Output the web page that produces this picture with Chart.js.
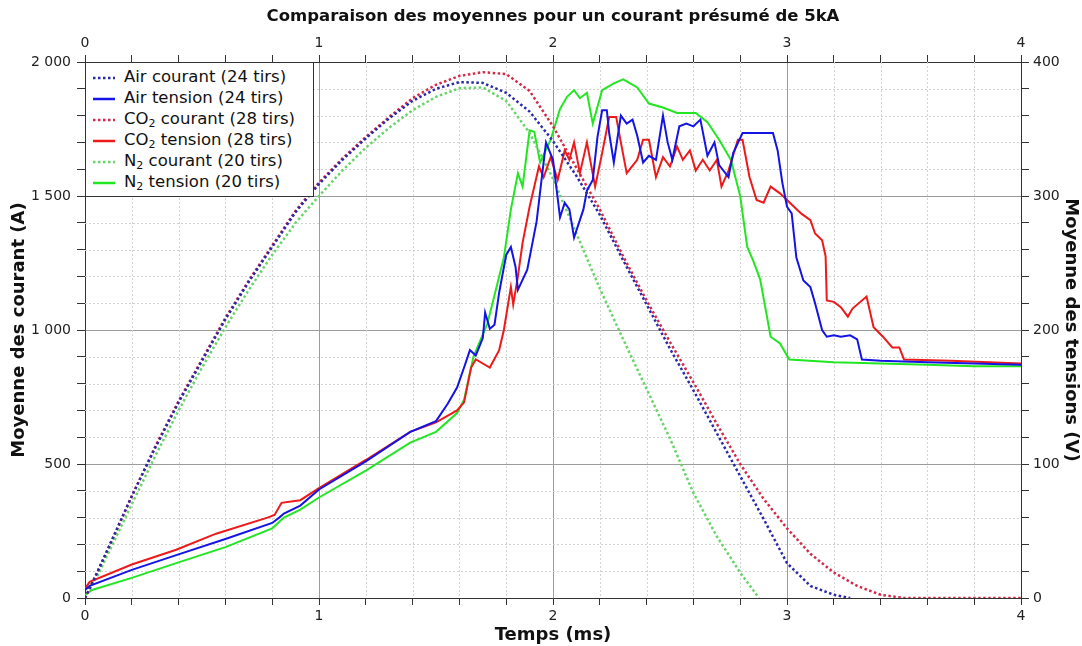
<!DOCTYPE html>
<html>
<head>
<meta charset="utf-8">
<script src="https://cdn.jsdelivr.net/npm/chart.js@4/dist/chart.umd.min.js"></script>
<style>
  body { margin: 0; background: #fff; }
  #wrap { position: relative; width: 1082px; height: 646px; }
  #legende {
    position: absolute; background: #fff; border: 1px solid #333;
    font-family: "DejaVu Sans", sans-serif; font-size: 16.5px; color: #111;
    box-sizing: border-box; padding: 3px 0 0 6px;
  }
  #legende div { height: 21px; line-height: 21px; white-space: nowrap; }
  #legende svg { vertical-align: middle; margin-right: 8px; }
  #legende sub { font-size: 11px; vertical-align: -3px; line-height: 0; }
</style>
</head>
<body>
<div id="wrap">
  <canvas id="moyennes"></canvas>
  <div id="legende"></div>
</div>
<script>
// temps en ms, courant en A
const airCourantT = [0, 0.06, 0.2, 0.3, 0.4, 0.5, 0.6, 0.7, 0.8, 0.9, 1.0, 1.1, 1.2, 1.3, 1.4, 1.5, 1.6, 1.7, 1.8, 1.9, 2.0, 2.1, 2.2, 2.3, 2.4, 2.5, 2.6, 2.7, 2.8, 2.9, 3.0, 3.1, 3.2, 3.27];
const airCourantA = [0, 110, 380, 560, 730, 885, 1040, 1180, 1310, 1440, 1545, 1635, 1715, 1790, 1855, 1900, 1925, 1922, 1885, 1815, 1705, 1575, 1430, 1260, 1095, 930, 775, 615, 455, 295, 130, 45, 12, 0];

const co2CourantT = [0, 0.06, 0.2, 0.3, 0.4, 0.5, 0.6, 0.7, 0.8, 0.9, 1.0, 1.1, 1.2, 1.3, 1.4, 1.5, 1.6, 1.7, 1.8, 1.9, 2.0, 2.1, 2.2, 2.3, 2.4, 2.5, 2.6, 2.7, 2.8, 2.9, 3.0, 3.1, 3.2, 3.3, 3.4, 3.5, 4.0];
const co2CourantA = [0, 110, 380, 565, 735, 890, 1045, 1185, 1315, 1445, 1550, 1640, 1720, 1795, 1865, 1915, 1948, 1962, 1955, 1892, 1760, 1605, 1450, 1275, 1110, 955, 805, 650, 500, 370, 260, 165, 95, 45, 12, 0, 0];

const n2CourantT = [0, 0.06, 0.2, 0.3, 0.4, 0.5, 0.6, 0.7, 0.8, 0.9, 1.0, 1.1, 1.2, 1.3, 1.4, 1.5, 1.6, 1.7, 1.8, 1.9, 2.0, 2.1, 2.2, 2.3, 2.4, 2.5, 2.6, 2.7, 2.8, 2.88];
const n2CourantA = [0, 95, 350, 530, 700, 860, 1010, 1150, 1280, 1400, 1500, 1595, 1680, 1755, 1820, 1870, 1902, 1905, 1855, 1735, 1565, 1360, 1155, 965, 780, 595, 392, 230, 95, 0];

// tensions en V
const airTensionT = [0, 0.02, 0.2, 0.39, 0.6, 0.8, 0.83, 0.85, 0.92, 1.0, 1.2, 1.39, 1.5, 1.55, 1.59, 1.62, 1.645, 1.67, 1.70, 1.71, 1.73, 1.75, 1.77, 1.80, 1.82, 1.84, 1.85, 1.89, 1.93, 1.97, 2.0, 2.03, 2.05, 2.07, 2.09, 2.13, 2.145, 2.17, 2.19, 2.21, 2.23, 2.24, 2.26, 2.29, 2.315, 2.34, 2.36, 2.385, 2.41, 2.44, 2.47, 2.49, 2.51, 2.54, 2.57, 2.60, 2.63, 2.66, 2.69, 2.71, 2.75, 2.77, 2.81, 2.86, 2.91, 2.94, 2.96, 2.98, 3.0, 3.02, 3.04, 3.07, 3.10, 3.12, 3.15, 3.17, 3.20, 3.23, 3.27, 3.30, 3.32, 3.40, 3.6, 3.8, 4.0];
const airTensionV = [6, 9, 21, 32, 44, 56, 60, 63, 69, 81, 102, 124, 132, 145, 157, 172, 185, 181, 194, 213, 201, 204, 228, 256, 262, 247, 230, 245, 281, 340, 327, 284, 295, 290, 269, 290, 304, 312, 344, 364, 364, 347, 325, 360, 354, 357, 345, 325, 330, 327, 360, 340, 327, 352, 354, 352, 357, 330, 340, 323, 314, 332, 347, 347, 347, 347, 334, 310, 292, 287, 254, 237, 232, 220, 200, 195, 196, 195, 196, 193, 178, 177, 176, 175, 174];

const co2TensionT = [0, 0.02, 0.2, 0.39, 0.56, 0.78, 0.81, 0.84, 0.92, 1.0, 1.2, 1.39, 1.5, 1.59, 1.62, 1.65, 1.67, 1.70, 1.73, 1.77, 1.79, 1.82, 1.83, 1.85, 1.87, 1.90, 1.94, 1.96, 1.99, 2.02, 2.05, 2.07, 2.09, 2.115, 2.145, 2.18, 2.21, 2.24, 2.27, 2.29, 2.315, 2.36, 2.385, 2.41, 2.44, 2.47, 2.50, 2.53, 2.555, 2.585, 2.61, 2.64, 2.67, 2.70, 2.72, 2.75, 2.79, 2.81, 2.84, 2.87, 2.90, 2.93, 2.97, 3.0, 3.03, 3.06, 3.10, 3.12, 3.15, 3.165, 3.17, 3.20, 3.23, 3.26, 3.28, 3.34, 3.37, 3.41, 3.45, 3.48, 3.50, 3.7, 4.0];
const co2TensionV = [7, 12, 25, 36, 48, 60, 62, 71, 73, 82, 103, 124, 131, 140, 146, 172, 178, 175, 172, 185, 200, 232, 219, 240, 265, 292, 322, 314, 329, 312, 334, 327, 340, 317, 340, 307, 332, 359, 359, 340, 317, 327, 342, 342, 314, 329, 322, 337, 327, 334, 319, 327, 319, 327, 307, 319, 342, 342, 314, 297, 295, 307, 302, 297, 292, 287, 282, 272, 267, 255, 222, 221, 217, 210, 216, 225, 202, 195, 187, 187, 178, 177, 175];

const n2TensionT = [0, 0.03, 0.2, 0.39, 0.6, 0.8, 0.85, 0.92, 1.0, 1.2, 1.39, 1.5, 1.59, 1.62, 1.66, 1.72, 1.77, 1.79, 1.82, 1.85, 1.87, 1.90, 1.92, 1.945, 1.99, 2.03, 2.06, 2.09, 2.115, 2.145, 2.17, 2.21, 2.26, 2.30, 2.36, 2.41, 2.47, 2.53, 2.61, 2.66, 2.71, 2.76, 2.80, 2.83, 2.855, 2.885, 2.93, 2.97, 3.01, 3.2, 3.4, 3.6, 3.8, 4.0];
const n2TensionV = [2, 6, 15, 26, 38, 52, 60, 66, 75, 95, 116, 124, 138, 148, 180, 205, 240, 254, 290, 317, 307, 349, 348, 325, 342, 365, 374, 379, 373, 377, 354, 379, 384, 387, 381, 369, 366, 362, 362, 355, 342, 327, 300, 262, 252, 238, 195, 190, 178, 176, 175, 174, 173, 173];

const xTicks = [0, 1, 2, 3, 4];
const courantTicks = [0, 500, 1000, 1500, 2000];
const tensionTicks = [0, 100, 200, 300, 400];

const pts = (t, v) => t.map((x, i) => ({x: x, y: v[i]}));

const series = [
    {label: "Air courant (24 tirs)", html: "Air courant (24 tirs)", data: pts(airCourantT, airCourantA), color: "#2a2aa8", dots: true, axis: "y"},
    {label: "Air tension (24 tirs)", html: "Air tension (24 tirs)", data: pts(airTensionT, airTensionV), color: "#1414e6", dots: false, axis: "y2"},
    {label: "CO2 courant (28 tirs)", html: "CO<sub>2</sub> courant (28 tirs)", data: pts(co2CourantT, co2CourantA), color: "#d22a48", dots: true, axis: "y"},
    {label: "CO2 tension (28 tirs)", html: "CO<sub>2</sub> tension (28 tirs)", data: pts(co2TensionT, co2TensionV), color: "#ec1a1a", dots: false, axis: "y2"},
    {label: "N2 courant (20 tirs)", html: "N<sub>2</sub> courant (20 tirs)", data: pts(n2CourantT, n2CourantA), color: "#66d466", dots: true, axis: "y"},
    {label: "N2 tension (20 tirs)", html: "N<sub>2</sub> tension (20 tirs)", data: pts(n2TensionT, n2TensionV), color: "#22e622", dots: false, axis: "y2"},
];

const isOn = (v, step) => Math.abs(v / step - Math.round(v / step)) < 1e-6;
const milliers = v => String(Math.round(v)).replace(/\B(?=(\d{3})+(?!\d))/g, " ");

Chart.defaults.font.family = "'DejaVu Sans', sans-serif";
Chart.defaults.font.size = 14;
Chart.defaults.color = "#222";

const MAJOR = "#9c9c9c";
const AXE = "#333";
const titreAxe = {size: 18, weight: "bold"};

// grille secondaire en pointillés (tous les 0.2 ms et 100 A)
const grilleMineure = {
    id: "grilleMineure",
    beforeDatasetsDraw(chart) {
        const {ctx, chartArea: a, scales} = chart;
        ctx.save();
        ctx.strokeStyle = "#d2d2d2";
        ctx.lineWidth = 1;
        ctx.setLineDash([2, 2]);
        for (let i = 1; i < 20; i++) {
            if (i % 5 === 0) continue;
            const x = Math.round(scales.x.getPixelForValue(i * 0.2)) + 0.5;
            ctx.beginPath(); ctx.moveTo(x, a.top); ctx.lineTo(x, a.bottom); ctx.stroke();
        }
        for (let i = 1; i < 20; i++) {
            if (i % 5 === 0) continue;
            const y = Math.round(scales.y.getPixelForValue(i * 100)) + 0.5;
            ctx.beginPath(); ctx.moveTo(a.left, y); ctx.lineTo(a.right, y); ctx.stroke();
        }
        ctx.restore();
    }
};

const axeX = (pos, extra) => Object.assign({
    type: "linear", position: pos, min: 0, max: 4,
    ticks: {stepSize: 0.2, autoSkip: false, maxRotation: 0, padding: 3,
        callback: v => isOn(v, 1) && xTicks.includes(Math.round(v)) ? String(Math.round(v)) : ""},
    border: {color: AXE, width: 1},
}, extra);

const chart = new Chart(document.getElementById("moyennes"), {
    type: "line",
    data: {
        datasets: series.map(s => ({
            label: s.label,
            data: s.data,
            yAxisID: s.axis,
            borderColor: s.color,
            backgroundColor: s.color,
            borderWidth: s.dots ? 2.5 : 2,
            borderDash: s.dots ? [2.5, 2.5] : [],
            pointRadius: 0,
            tension: 0,
            fill: false,
        }))
    },
    options: {
        responsive: true,
        maintainAspectRatio: false,
        animation: false,
        layout: {padding: 0},
        plugins: {legend: {display: false}, title: {display: false}, tooltip: {enabled: false}},
        scales: {
            x: axeX("bottom", {
                grid: {color: c => isOn(c.tick.value, 1) ? MAJOR : "rgba(0,0,0,0)", tickColor: AXE, tickLength: 7},
                title: {display: true, text: "Temps (ms)", font: titreAxe, color: "#111", padding: {top: 0, bottom: 0}},
                afterFit: s => { s.height = 48; },
            }),
            x2: axeX("top", {
                grid: {drawOnChartArea: false, tickColor: AXE, tickLength: 7},
                title: {display: true, text: "Comparaison des moyennes pour un courant présumé de 5kA", font: {size: 16.5, weight: "bold"}, color: "#111", padding: {top: 7, bottom: 0}},
                afterFit: s => { s.height = 62; },
            }),
            y: {
                type: "linear", position: "left", min: 0, max: 2000,
                ticks: {stepSize: 100, autoSkip: false, padding: 6,
                    callback: v => courantTicks.includes(v) ? milliers(v) : ""},
                grid: {color: c => isOn(c.tick.value, 500) ? MAJOR : "rgba(0,0,0,0)", tickColor: AXE, tickLength: 8},
                border: {color: AXE, width: 1},
                title: {display: true, text: "Moyenne des courant (A)", font: titreAxe, color: "#111", padding: {top: 9, bottom: 0}},
                afterFit: s => { s.width = 85; },
            },
            y2: {
                type: "linear", position: "right", min: 0, max: 400,
                ticks: {stepSize: 20, autoSkip: false, padding: 4,
                    callback: v => tensionTicks.includes(v) ? String(v) : ""},
                grid: {drawOnChartArea: false, tickColor: AXE, tickLength: 8},
                border: {color: AXE, width: 1},
                title: {display: true, text: "Moyenne des tensions (V)", font: titreAxe, color: "#111", padding: {top: 1, bottom: 0}},
                afterFit: s => { s.width = 61; },
            },
        }
    },
    plugins: [grilleMineure]
});

// légende dans le coin haut gauche de la zone de tracé
const leg = document.getElementById("legende");
const a = chart.chartArea;
leg.style.left = a.left + "px";
leg.style.top = a.top + "px";
leg.style.width = "229px";
leg.style.height = "135px";
leg.innerHTML = series.map(s =>
    '<div><svg width="24" height="6"><line x1="1" y1="3" x2="23" y2="3" stroke="' + s.color +
    '" stroke-width="2.5"' + (s.dots ? ' stroke-dasharray="2.5 2.5"' : "") +
    '/></svg>' + s.html + "</div>").join("");
</script>
</body>
</html>
